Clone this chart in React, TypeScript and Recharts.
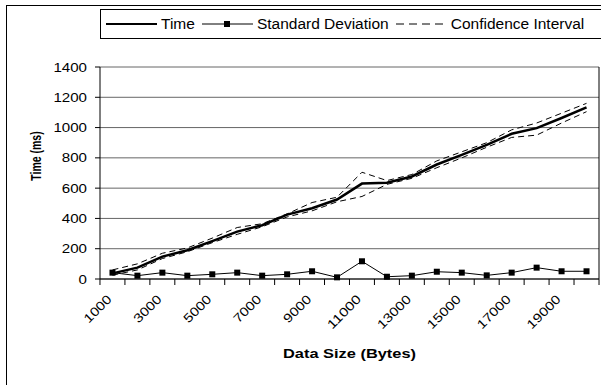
import React from "react";
import { LineChart, Line, XAxis, YAxis, CartesianGrid } from "recharts";

// data size in bytes (x categories)
const sizes = [
  1000, 2000, 3000, 4000, 5000, 6000, 7000, 8000, 9000, 10000,
  11000, 12000, 13000, 14000, 15000, 16000, 17000, 18000, 19000, 20000,
];
// mean time (ms)
const timeMs = [37, 75, 148, 190, 250, 313, 355, 425, 467, 525, 630, 636, 677, 756, 820, 886, 959, 996, 1063, 1133];
// standard deviation (ms)
const stdDev = [42, 22, 42, 22, 31, 42, 22, 31, 51, 11, 117, 15, 22, 48, 42, 24, 42, 75, 51, 51];
// confidence interval bounds (ms)
const ciUpper = [60, 100, 170, 205, 270, 340, 365, 430, 505, 540, 705, 650, 690, 780, 840, 900, 985, 1030, 1095, 1160];
const ciLower = [25, 60, 135, 180, 240, 295, 345, 410, 450, 510, 545, 625, 665, 735, 800, 870, 935, 950, 1030, 1105];

const yTicks = [0, 200, 400, 600, 800, 1000, 1200, 1400];

const data = sizes.map((s, i) => ({
  size: String(s),
  time: timeMs[i],
  std: stdDev[i],
  hi: ciUpper[i],
  lo: ciLower[i],
}));

const FONT = "'Liberation Sans', Arial, Helvetica, sans-serif";

function SquareDot(props: any) {
  const { cx, cy } = props;
  if (cx == null || cy == null) return null;
  return <rect x={cx - 3} y={cy - 3} width={6} height={6} fill="#000" />;
}

// x tick: label at band center (every other), tick marks on band edges
function SizeTick(props: any) {
  const { x, y, index, payload, visibleTicksCount } = props;
  const axisY = y - 8;
  const half = 12.5;
  const label = String(payload.value);
  const len = label.length * 8.4;
  const ly = axisY + 21;
  return (
    <g>
      <line x1={x - half} x2={x - half} y1={axisY} y2={axisY + 6} stroke="#000" />
      {index === visibleTicksCount - 1 && (
        <line x1={x + half} x2={x + half} y1={axisY} y2={axisY + 6} stroke="#000" />
      )}
      {index % 2 === 0 && (
        <text
          x={x - len}
          y={ly}
          transform={`rotate(-45, ${x}, ${ly})`}
          fontFamily={FONT}
          fontSize={12.5}
          fill="#000"
          textLength={len}
          lengthAdjust="spacingAndGlyphs"
        >
          {label}
        </text>
      )}
    </g>
  );
}

function TimeTick(props: any) {
  const { x, y, payload } = props;
  const label = String(payload.value);
  const len = label.length * 8.4;
  return (
    <text
      x={x - len}
      y={y + 4.5}
      fontFamily={FONT}
      fontSize={12.5}
      fill="#000"
      textLength={len}
      lengthAdjust="spacingAndGlyphs"
    >
      {label}
    </text>
  );
}

const legendItems = [
  { label: "Time", kind: "time" },
  { label: "Standard Deviation", kind: "std" },
  { label: "Confidence Interval", kind: "ci" },
];

function LegendSample({ kind }: { kind: string }) {
  return (
    <svg width={51} height={12} style={{ display: "block" }}>
      {kind === "time" && <line x1={0} x2={51} y1={6} y2={6} stroke="#000" strokeWidth={2} />}
      {kind === "std" && (
        <>
          <line x1={0} x2={51} y1={6} y2={6} stroke="#000" strokeWidth={1} />
          <rect x={22} y={3} width={6} height={6} fill="#000" />
        </>
      )}
      {kind === "ci" && (
        <line x1={0} x2={53} y1={6} y2={6} stroke="#000" strokeWidth={1} strokeDasharray="8 5" />
      )}
    </svg>
  );
}

export default function App() {
  return (
    <div
      style={{
        position: "absolute",
        left: 0,
        top: 0,
        width: 601,
        height: 385,
        overflow: "hidden",
        background: "#fff",
      }}
    >
      <div
        style={{
          position: "absolute",
          left: 6,
          top: 5,
          width: 700,
          height: 500,
          borderLeft: "1px solid #000",
          borderTop: "1px solid #000",
        }}
      />
      <LineChart
        width={601}
        height={385}
        data={data}
        margin={{ top: 67, right: 0, bottom: 0, left: 0 }}
      >
        <CartesianGrid vertical={false} stroke="#666" />
        <XAxis
          dataKey="size"
          scale="band"
          interval={0}
          height={106}
          tickLine={false}
          tickSize={6}
          tickMargin={2}
          axisLine={{ stroke: "#000" }}
          tick={<SizeTick />}
          label={{
            content: (p: any) => {
              const vb = p.viewBox;
              const w = 133;
              return (
                <text
                  x={vb.x + vb.width / 2 - w / 2}
                  y={vb.y + 79}
                  fontFamily={FONT}
                  fontWeight="bold"
                  fontSize={13.5}
                  textLength={w}
                  lengthAdjust="spacingAndGlyphs"
                  fill="#000"
                >
                  Data Size (Bytes)
                </text>
              );
            },
          }}
        />
        <YAxis
          width={100}
          domain={[0, 1400]}
          ticks={yTicks}
          interval={0}
          tickSize={5}
          tickMargin={8}
          tickLine={{ stroke: "#000" }}
          axisLine={{ stroke: "#000" }}
          tick={<TimeTick />}
        />
        <YAxis
          yAxisId="r"
          orientation="right"
          width={2}
          domain={[0, 1400]}
          tick={false}
          tickLine={false}
          axisLine={{ stroke: "#000" }}
        />
        <Line dataKey="hi" stroke="#000" strokeWidth={1} strokeDasharray="6 4" dot={false} isAnimationActive={false} />
        <Line dataKey="lo" stroke="#000" strokeWidth={1} strokeDasharray="6 4" dot={false} isAnimationActive={false} />
        <Line dataKey="std" stroke="#000" strokeWidth={1} dot={<SquareDot />} isAnimationActive={false} />
        <Line dataKey="time" stroke="#000" strokeWidth={2.5} dot={false} isAnimationActive={false} />
      </LineChart>
      <div
        style={{
          position: "absolute",
          left: 35.5,
          top: 156,
          transform: "translate(-50%, -50%) rotate(-90deg) scaleX(0.75)",
          fontFamily: FONT,
          fontWeight: "bold",
          fontSize: 14,
          lineHeight: "16px",
          whiteSpace: "nowrap",
          color: "#000",
        }}
      >
        Time (ms)
      </div>
      <div
        style={{
          position: "absolute",
          left: 100,
          top: 9,
          width: 497,
          height: 28,
          border: "1px solid #000",
          display: "flex",
          alignItems: "center",
          paddingLeft: 5,
          boxSizing: "content-box",
          fontFamily: FONT,
          fontSize: 15.5,
          color: "#000",
          background: "#fff",
          whiteSpace: "nowrap",
        }}
      >
        {legendItems.map((it) => (
          <div key={it.kind} style={{ display: "flex", alignItems: "center", marginRight: 7 }}>
            <LegendSample kind={it.kind} />
            <span style={{ marginLeft: 4 }}>{it.label}</span>
          </div>
        ))}
      </div>
    </div>
  );
}
